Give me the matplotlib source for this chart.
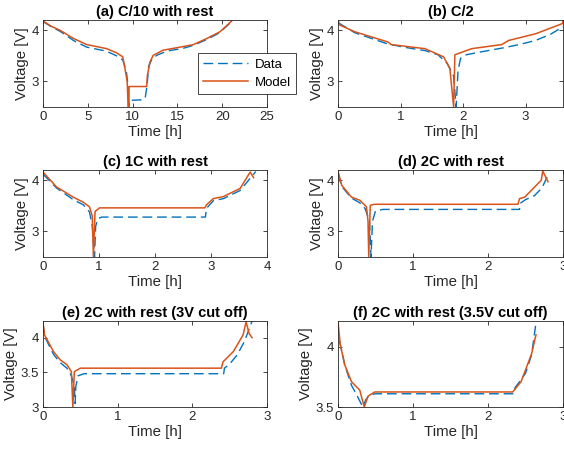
import matplotlib
matplotlib.use("Agg")
import matplotlib.pyplot as plt
from matplotlib.lines import Line2D

plt.rcParams['font.family'] = ['Liberation Sans', 'DejaVu Sans']

DATA_COLOR = "#0072BD"
MODEL_COLOR = "#D95319"
AX_COLOR = "#262626"

# ---------- (a) C/10 with rest ----------
a_model_t = [0, 1.0, 1.9, 3.4, 4.87, 6.0, 7.1, 8.2, 8.9, 9.15, 9.4, 9.5, 9.6, 9.6, 11.57, 11.65, 11.94, 12.3, 13.4, 15.3, 16.8, 18.3, 19.75, 21.05]
a_model_v = [4.18, 4.07, 4.0, 3.84, 3.72, 3.68, 3.64, 3.56, 3.48, 3.25, 2.99, 2.5, 2.5, 2.9, 2.9, 3.12, 3.38, 3.51, 3.61, 3.67, 3.72, 3.84, 3.97, 4.18]
a_data_t = [0, 1.0, 1.9, 3.4, 4.87, 6.0, 7.1, 8.2, 8.9, 9.3, 9.5, 9.55, 9.7, 11.0, 11.4, 11.6, 11.8, 12.2, 12.8, 14.0, 15.5, 16.7, 18.3, 19.7, 21.0]
a_data_v = [4.17, 4.06, 3.98, 3.8, 3.67, 3.63, 3.59, 3.5, 3.42, 3.2, 2.9, 2.5, 2.63, 2.64, 2.67, 2.9, 3.3, 3.45, 3.52, 3.6, 3.64, 3.7, 3.82, 3.95, 4.16]

# ---------- (b) C/2 ----------
b_model_t = [0, 0.03, 0.27, 0.8, 0.85, 1.39, 1.69, 1.79, 1.85, 1.87, 2.14, 2.62, 2.73, 3.16, 3.59, 3.6]
b_model_v = [4.2, 4.1, 3.97, 3.77, 3.72, 3.64, 3.48, 3.25, 2.5, 3.52, 3.64, 3.72, 3.8, 3.93, 4.13, 4.18]
b_data_t = [0, 0.27, 0.8, 1.1, 1.4, 1.6, 1.75, 1.85, 1.89, 1.92, 1.96, 2.05, 2.3, 2.62, 2.9, 3.16, 3.4, 3.6]
b_data_v = [4.15, 3.95, 3.73, 3.66, 3.6, 3.52, 3.35, 3.1, 2.5, 3.2, 3.45, 3.52, 3.58, 3.65, 3.72, 3.8, 3.92, 4.07]

# ---------- (c) 1C with rest ----------
c_model_t = [0, 0.24, 0.54, 0.72, 0.83, 0.88, 0.9, 0.93, 1.01, 2.89, 2.92, 3.04, 3.22, 3.52, 3.7, 3.76]
c_model_v = [4.16, 3.87, 3.67, 3.57, 3.48, 3.3, 2.5, 3.39, 3.46, 3.46, 3.52, 3.64, 3.68, 3.84, 4.16, 4.05]
c_data_t = [0, 0.24, 0.54, 0.72, 0.83, 0.88, 0.92, 0.94, 0.98, 1.05, 2.9, 2.92, 3.04, 3.22, 3.52, 3.8]
c_data_v = [4.12, 3.85, 3.62, 3.52, 3.38, 3.1, 2.5, 3.1, 3.25, 3.28, 3.28, 3.45, 3.6, 3.64, 3.8, 4.17]

# ---------- (d) 2C with rest ----------
d_model_t = [0, 0.05, 0.18, 0.29, 0.38, 0.4, 0.41, 0.43, 0.49, 2.4, 2.42, 2.49, 2.71, 2.73, 2.8]
d_model_v = [4.18, 3.9, 3.67, 3.61, 3.48, 3.2, 2.5, 3.51, 3.53, 3.53, 3.64, 3.67, 4.0, 4.18, 3.97]
d_data_t = [0, 0.05, 0.18, 0.29, 0.36, 0.42, 0.44, 0.46, 0.5, 0.6, 2.42, 2.43, 2.5, 2.62, 2.72, 2.8]
d_data_v = [4.12, 3.88, 3.65, 3.56, 3.45, 3.2, 2.5, 3.2, 3.4, 3.43, 3.43, 3.55, 3.62, 3.7, 3.85, 4.1]

# ---------- (e) 2C with rest (3V cut off) ----------
e_model_t = [0, 0.02, 0.14, 0.23, 0.32, 0.38, 0.4, 0.42, 0.5, 2.39, 2.41, 2.55, 2.68, 2.72, 2.76, 2.8]
e_model_v = [4.23, 4.04, 3.8, 3.68, 3.61, 3.51, 3.0, 3.51, 3.56, 3.56, 3.65, 3.8, 4.04, 4.23, 4.06, 4.0]
e_data_t = [0, 0.02, 0.14, 0.23, 0.32, 0.38, 0.42, 0.43, 0.44, 0.47, 0.55, 2.42, 2.43, 2.5, 2.6, 2.7, 2.8]
e_data_v = [4.2, 4.02, 3.76, 3.64, 3.56, 3.45, 3.3, 3.05, 3.3, 3.45, 3.48, 3.48, 3.56, 3.62, 3.75, 3.95, 4.24]

# ---------- (f) 2C with rest (3.5V cut off) ----------
f_model_t = [0, 0.03, 0.09, 0.18, 0.29, 0.35, 0.4, 0.49, 2.33, 2.44, 2.58, 2.64]
f_model_v = [4.21, 4.02, 3.85, 3.71, 3.64, 3.5, 3.59, 3.625, 3.625, 3.71, 3.94, 4.1]
f_data_t = [0.02, 0.09, 0.18, 0.25, 0.33, 0.37, 0.42, 0.5, 2.34, 2.36, 2.42, 2.5, 2.58, 2.64]
f_data_v = [4.05, 3.85, 3.68, 3.6, 3.5, 3.56, 3.6, 3.61, 3.61, 3.66, 3.71, 3.78, 3.93, 4.2]

panels = [
    ("(a) C/10 with rest", a_data_t, a_data_v, a_model_t, a_model_v, (0, 25), (2.5, 4.2), [0, 5, 10, 15, 20, 25], [3, 4]),
    ("(b) C/2", b_data_t, b_data_v, b_model_t, b_model_v, (0, 3.6), (2.5, 4.2), [0, 1, 2, 3], [3, 4]),
    ("(c) 1C with rest", c_data_t, c_data_v, c_model_t, c_model_v, (0, 4), (2.5, 4.2), [0, 1, 2, 3, 4], [3, 4]),
    ("(d) 2C with rest", d_data_t, d_data_v, d_model_t, d_model_v, (0, 3), (2.5, 4.2), [0, 1, 2, 3], [3, 4]),
    ("(e) 2C with rest (3V cut off)", e_data_t, e_data_v, e_model_t, e_model_v, (0, 3), (3.0, 4.24), [0, 1, 2, 3], [3, 3.5, 4]),
    ("(f) 2C with rest (3.5V cut off)", f_data_t, f_data_v, f_model_t, f_model_v, (0, 3), (3.5, 4.215), [0, 1, 2, 3], [3.5, 4]),
]

W, H = 564, 455
fig = plt.figure(figsize=(W / 100, H / 100), dpi=100)

cols = [(43, 267), (338, 563)]
rows = [(20, 107), (170, 257), (321, 407)]

for i, (title, dt, dv, mt, mv, xl, yl, xt, yt) in enumerate(panels):
    x0, x1 = cols[i % 2]
    y0, y1 = rows[i // 2]
    ax = fig.add_axes([x0 / W, 1 - y1 / H, (x1 - x0) / W, (y1 - y0) / H])
    ax.plot(dt, dv, color=DATA_COLOR, lw=1.0, dashes=(7, 3.5))
    ax.plot(mt, mv, color=MODEL_COLOR, lw=1.1)
    ax.set_xlim(*xl)
    ax.set_ylim(*yl)
    ax.set_xticks(xt)
    ax.set_yticks(yt)
    ax.set_yticklabels([f"{v:g}" for v in yt])
    ax.tick_params(direction="in", top=True, right=True, length=3, width=0.6,
                   colors=AX_COLOR, labelsize=9.5, pad=3)
    for s in ax.spines.values():
        s.set_color(AX_COLOR)
        s.set_linewidth(0.6)
    ax.set_xlabel("Time [h]", fontsize=10.8, color=AX_COLOR, labelpad=1)
    ax.set_ylabel("Voltage [V]", fontsize=10.8, color=AX_COLOR, labelpad=2)
    ax.set_title(title, fontsize=10.5, fontweight="bold", color="black", pad=3)

handles = [Line2D([], [], color=DATA_COLOR, lw=1.0, dashes=(7, 3.5)),
           Line2D([], [], color=MODEL_COLOR, lw=1.1)]
leg = fig.legend(handles, ["Data", "Model"], loc="upper left",
                 bbox_to_anchor=(198 / W, 1 - 53 / H), borderaxespad=0, fontsize=9.5,
                 fancybox=False, framealpha=1, edgecolor=AX_COLOR,
                 handlelength=3.4, borderpad=0.4, labelspacing=0.45, handletextpad=0.5)
leg.get_frame().set_linewidth(0.6)

fig.savefig("out.png", dpi=100)
